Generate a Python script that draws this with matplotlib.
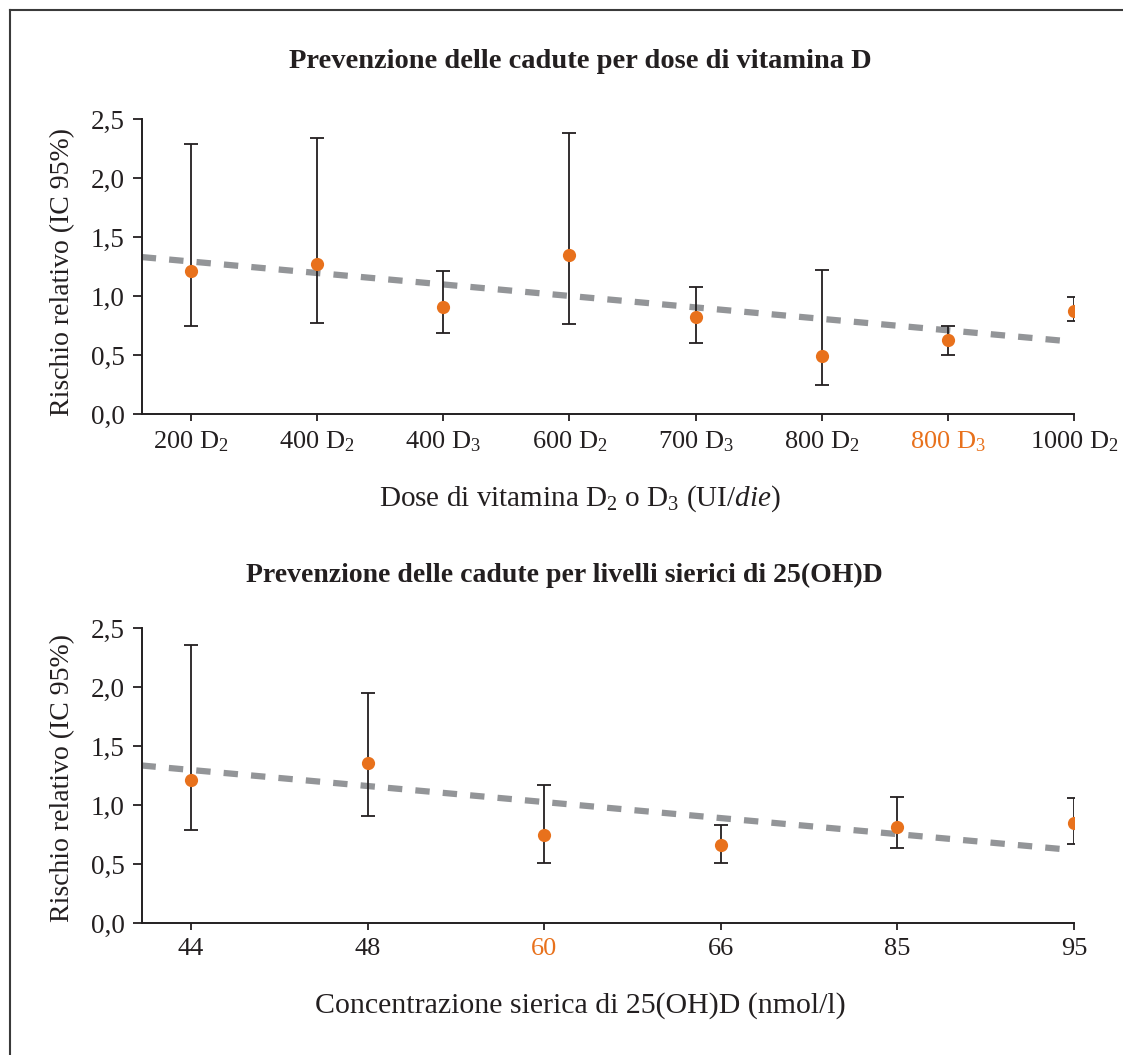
import numpy as np
import matplotlib.pyplot as plt
from matplotlib.lines import Line2D

plt.rcParams['font.family'] = ['Liberation Serif', 'DejaVu Serif']
plt.rcParams['mathtext.fontset'] = 'custom'
plt.rcParams['mathtext.rm'] = 'Liberation Serif'
plt.rcParams['mathtext.it'] = 'Liberation Serif:italic'
plt.rcParams['mathtext.bf'] = 'Liberation Serif:bold'

# --- dati: dose di vitamina D ---
dose_labels = ["200 D$_2$", "400 D$_2$", "400 D$_3$", "600 D$_2$",
               "700 D$_3$", "800 D$_2$", "800 D$_3$", "1000 D$_2$"]
dose_rr = [1.21, 1.27, 0.91, 1.35, 0.82, 0.49, 0.63, 0.87]
dose_lo = [0.75, 0.77, 0.69, 0.76, 0.60, 0.25, 0.50, 0.79]
dose_hi = [2.29, 2.34, 1.21, 2.38, 1.08, 1.22, 0.75, 0.99]
dose_trend_x = [-0.39, 6.97]
dose_trend_y = [1.33, 0.615]

# --- dati: livelli sierici di 25(OH)D ---
level_labels = ["44", "48", "60", "66", "85", "95"]
level_rr = [1.21, 1.36, 0.75, 0.66, 0.81, 0.85]
level_lo = [0.79, 0.91, 0.505, 0.505, 0.635, 0.67]
level_hi = [2.36, 1.95, 1.17, 0.83, 1.07, 1.06]
level_trend_x = [-0.28, 4.98]
level_trend_y = [1.335, 0.62]

orange = "#E8711C"
grey = "#939598"
ink = "#231F20"

fig = plt.figure(figsize=(11.23, 10.55), dpi=100)


def draw(ax, labels, rr, lo, hi, tx, ty, xlim, hl, ly):
    x = np.arange(len(labels))
    rr = np.array(rr)
    yerr = [rr - np.array(lo), np.array(hi) - rr]
    ax.plot(tx, ty, color=grey, lw=4.5, ls=(0, (2.3, 2.1)), solid_capstyle='butt', zorder=1)
    ax.errorbar(x, rr, yerr=yerr, fmt='none', ecolor=ink, elinewidth=1.3,
                capsize=5, capthick=1.3, zorder=2)
    ax.plot(x, rr, 'o', color=orange, ms=9.5, mec='none', zorder=3)
    ax.set_xlim(*xlim)
    ax.set_ylim(0, 2.5)
    for s in ['top', 'right']:
        ax.spines[s].set_visible(False)
    for s in ['left', 'bottom']:
        ax.spines[s].set_linewidth(1.4)
        ax.spines[s].set_color(ink)
    ax.tick_params(axis='y', direction='out', length=6.5, width=1.3, pad=6, colors=ink)
    ax.tick_params(axis='x', direction='out', length=5, width=1.3, pad=6, colors=ink)
    ax.set_xticks(x)
    ax.set_xticklabels(labels, fontsize=19, color=ink)
    ax.get_xticklabels()[hl].set_color(orange)
    ax.set_yticks([0, 0.5, 1.0, 1.5, 2.0, 2.5])
    ax.set_yticklabels(["0,0", "0,5", "1,0", "1,5", "2,0", "2,5"], fontsize=19.5, color=ink)
    ax.set_ylabel("Rischio relativo (IC 95%)", fontsize=20, color=ink)
    ax.yaxis.set_label_coords(-0.072, ly)


ax1 = fig.add_axes([142 / 1123, 1 - 414 / 1055, 932 / 1123, 295 / 1055])
draw(ax1, dose_labels, dose_rr, dose_lo, dose_hi, dose_trend_x, dose_trend_y, (-0.388, 7), 6, 0.48)
ax1.set_xlabel("Dose di vitamina D$_2$ o D$_3$ (UI/$\\mathit{die}$)", fontsize=21, color=ink)
ax1.xaxis.set_label_coords(0.47, -0.235)

ax2 = fig.add_axes([142 / 1123, 1 - 923 / 1055, 932 / 1123, 295 / 1055])
draw(ax2, level_labels, level_rr, level_lo, level_hi, level_trend_x, level_trend_y, (-0.277, 5), 2, 0.49)
ax2.set_xlabel("Concentrazione sierica di 25(OH)D (nmol/l)", fontsize=21.5, color=ink)
ax2.xaxis.set_label_coords(0.47, -0.235)

fig.text(580 / 1123, 1 - 62 / 1055, "Prevenzione delle cadute per dose di vitamina D",
         ha='center', va='center', fontsize=20.5, fontweight='bold', color=ink)
fig.text(564 / 1123, 1 - 575 / 1055, "Prevenzione delle cadute per livelli sierici di 25(OH)D",
         ha='center', va='center', fontsize=20, fontweight='bold', color=ink)

# cornice
fig.add_artist(Line2D([10 / 1123, 10 / 1123], [0, 1 - 10 / 1055], color="#3a3a3a", lw=1.5))
fig.add_artist(Line2D([10 / 1123, 1], [1 - 10 / 1055, 1 - 10 / 1055], color="#3a3a3a", lw=1.5))

fig.savefig("out.png", dpi=100)
